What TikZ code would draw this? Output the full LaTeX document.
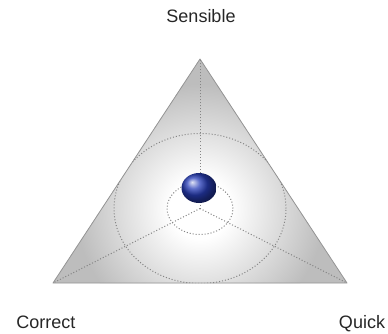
\documentclass[tikz,border=0pt]{standalone}
\usepackage{fontspec}
\setmainfont{Liberation Sans}
\usetikzlibrary{calc}
\definecolor{spherec}{RGB}{40,62,185}
\pgfdeclareradialshading{trishade}{\pgfpoint{0bp}{0bp}}{color(0bp)=(white); color(6bp)=(white); color(25bp)=(black!26); color(50bp)=(black!26)}
\tikzset{
  lbl/.style={anchor=base, text=black!85, font=\fontsize{18}{20}\selectfont, inner sep=0pt},
  guide/.style={draw=black!48, dotted, line width=1pt},
}
\begin{document}
\begin{tikzpicture}[x=1pt,y=-1pt]
\useasboundingbox (0,0) rectangle (388,334);
\coordinate (top) at (200,59);
\coordinate (bl) at (53,283);
\coordinate (br) at (347,283);
\coordinate (c) at (200,208.5);
% triangle fill
\begin{scope}
  \clip (top) -- (br) -- (bl) -- cycle;
  \fill[black!26] (0,0) rectangle (388,334);
  \shade[shading=trishade] (c) circle (125pt);
\end{scope}
\draw[black!42, line width=0.8pt, line join=round] (top) -- (br) -- (bl) -- cycle;
% dotted guides
\begin{scope}
  \clip (top) -- (br) -- (bl) -- cycle;
  \draw[guide] (c) ellipse [x radius=86pt, y radius=75pt];
\end{scope}
\draw[guide] (c) ellipse [x radius=33pt, y radius=26pt];
\draw[guide] (c) -- (top);
\draw[guide] (c) -- (bl);
\draw[guide] (c) -- (br);
% sphere
\shade[ball color=spherec] (199,188) ellipse [x radius=17.5pt, y radius=15pt];
% labels
\node[lbl] (sensible) at (201,23) {Sensible};
\node[lbl] (correct) at (46,328) {Correct};
\node[lbl] (quick) at (362,328) {Quick};
\end{tikzpicture}
\end{document}
